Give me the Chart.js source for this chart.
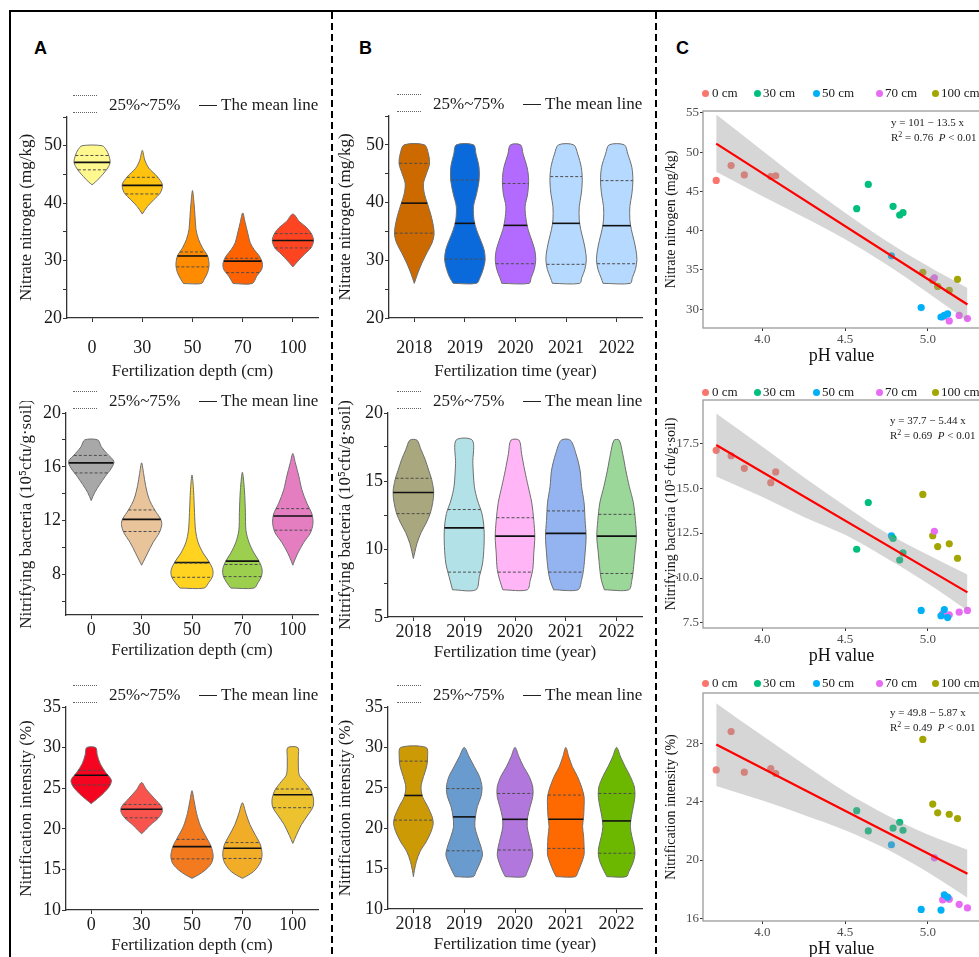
<!DOCTYPE html>
<html>
<head>
<meta charset="utf-8">
<script src="https://cdn.jsdelivr.net/npm/chart.js@4.4.0/dist/chart.umd.min.js"></script>
<style>
  html, body { margin: 0; background: #fff; }
  body { position: relative; width: 979px; height: 957px; overflow: hidden; font-family: "Liberation Serif", "Times New Roman", serif; color: #1a1a1a; }
  canvas { position: absolute; }
  #frame { position: absolute; left: 9px; top: 10px; width: 1200px; height: 1200px; border-left: 2px solid #000; border-top: 2px solid #000; }
  .sep { position: absolute; top: 12px; width: 2px; height: 950px; background: repeating-linear-gradient(to bottom, #000 0 7px, transparent 7px 11px); }
  .tag { position: absolute; top: 39px; font: bold 18px/18px "Liberation Sans", Arial, sans-serif; color: #000; }
  .key { position: absolute; width: 246px; height: 22px; font-size: 17px; line-height: 22px; white-space: nowrap; }
  .key .dots { position: absolute; left: 0; top: 1px; width: 24px; height: 16px; border-top: 1px dotted #666; border-bottom: 1px dotted #666; }
  .key .bar { position: absolute; left: 126px; top: 11px; width: 18px; border-top: 1.3px solid #222; }
  .key span, .ckey span { position: absolute; top: 0; }
  .ckey { position: absolute; left: 0; width: 979px; height: 16px; font-size: 13px; line-height: 16px; white-space: nowrap; }
  .ckey b { position: absolute; top: 4.5px; width: 7px; height: 7px; border-radius: 50%; }
  .eq { position: absolute; font-size: 11px; line-height: 15px; white-space: nowrap; }
  .eq sup { font-size: 8px; vertical-align: 4px; line-height: 0; }
</style>
</head>
<body>
<div id="frame"></div>
<div class="sep" style="left:331px"></div>
<div class="sep" style="left:655px"></div>
<div class="tag" style="left:34px">A</div>
<div class="tag" style="left:359px">B</div>
<div class="tag" style="left:676px">C</div>
<canvas id="aTop"></canvas>
<canvas id="aMid"></canvas>
<canvas id="aBot"></canvas>
<canvas id="bTop"></canvas>
<canvas id="bMid"></canvas>
<canvas id="bBot"></canvas>
<canvas id="cTop"></canvas>
<canvas id="cMid"></canvas>
<canvas id="cBot"></canvas>
<script>
const depthLabels = ['0', '30', '50', '70', '100'];
const yearLabels = ['2018', '2019', '2020', '2021', '2022'];
const depthGroups = ['0 cm', '30 cm', '50 cm', '70 cm', '100 cm'];

// violin outlines: [value, half width in category units], top to bottom
const nitrateDepthShapes = [
  [[50, .20], [49.3, .28], [48.4, .33], [47.2, .36], [46.4, .33], [45.5, .26], [44.6, .17], [43.7, .07], [43.2, 0]],
  [[49.2, 0], [47.5, .05], [46.1, .13], [44.6, .30], [43.2, .40], [41.8, .36], [40.6, .23], [39.4, .10], [38.1, 0]],
  [[42.2, 0], [40, .03], [37.7, .05], [35.4, .07], [33.7, .12], [32.2, .20], [30.8, .30], [29.3, .33], [27.9, .30], [26.7, .23], [26, .18]],
  [[38.3, 0], [36.6, .05], [34.8, .10], [33.1, .15], [31.9, .23], [30.8, .33], [29.6, .39], [28.5, .38], [27.3, .28], [26, .19]],
  [[38.1, 0], [36.8, .13], [35.7, .28], [34.5, .38], [33.4, .41], [32.2, .36], [31.1, .23], [29.9, .10], [28.9, 0]]
];
const nitrateDepthQ1 = [45.8, 41.6, 28.9, 27.9, 32.2];
const nitrateDepthQ3 = [48.3, 44.5, 31.5, 30.4, 34.7];
const nitrateDepthMean = [47.1, 43.1, 30.8, 29.9, 33.5];
const nitrateDepthColors = ['#FEF88E', '#FFC20E', '#FF8C00', '#FF6200', '#FF4422'];

const bacteriaDepthShapes = [
  [[18, .13], [17.5, .20], [17, .31], [16.4, .45], [15.9, .40], [15.3, .28], [14.7, .17], [14.1, .07], [13.5, 0]],
  [[16.3, 0], [15.5, .04], [14.6, .08], [13.6, .15], [12.8, .26], [12.1, .38], [11.7, .40], [11.1, .35], [10.4, .23], [9.6, .12], [9, .04], [8.7, 0]],
  [[15.4, 0], [14.3, .03], [12.6, .05], [11.3, .07], [10.4, .12], [9.6, .22], [9, .33], [8.4, .41], [7.9, .41], [7.4, .33], [7, .24]],
  [[15.6, 0], [14.3, .04], [12.6, .06], [11.3, .07], [10.4, .13], [9.6, .23], [9, .33], [8.4, .39], [7.9, .38], [7.4, .31], [7, .23]],
  [[17, 0], [16.3, .05], [15.3, .12], [14.3, .18], [13.3, .28], [12.5, .38], [11.8, .40], [11.1, .35], [10.4, .22], [9.6, .10], [9, .03], [8.7, 0]]
];
const bacteriaDepthQ1 = [15.55, 11.2, 7.8, 7.85, 11.3];
const bacteriaDepthQ3 = [16.85, 12.8, 8.85, 8.75, 12.9];
const bacteriaDepthMean = [16.3, 12.1, 8.9, 9.0, 12.35];
const bacteriaDepthColors = ['#A8A8A8', '#E9C49A', '#FFD320', '#9CCF4E', '#E47EC1'];

const intensityDepthShapes = [
  [[30, .09], [29.1, .12], [28, .18], [27, .28], [26, .40], [25.2, .36], [24.3, .23], [23.7, .12], [23.1, 0]],
  [[25.7, 0], [24.8, .10], [23.7, .26], [22.7, .40], [22.1, .41], [21.3, .33], [20.5, .18], [19.8, .07], [19.4, 0]],
  [[24.7, 0], [23.5, .04], [21.9, .09], [20.3, .17], [19, .28], [17.8, .38], [16.6, .42], [15.7, .38], [14.9, .26], [14.3, .12], [13.9, 0]],
  [[23.2, 0], [21.9, .07], [20.5, .15], [19.2, .26], [18, .36], [16.8, .39], [15.9, .36], [14.9, .25], [14.3, .12], [13.9, 0]],
  [[30, .10], [28.9, .11], [27.6, .11], [26.6, .13], [25.8, .23], [24.8, .35], [23.7, .41], [22.7, .40], [21.7, .30], [20.5, .17], [19.2, .07], [18.2, 0]]
];
const intensityDepthQ1 = [25.4, 21.35, 16.3, 16.35, 22.6];
const intensityDepthQ3 = [27.2, 23.0, 18.7, 18.3, 24.9];
const intensityDepthMean = [26.6, 22.4, 17.8, 17.6, 24.2];
const intensityDepthColors = ['#F5051F', '#F9534E', '#F47A20', '#F2AD28', '#EDC22F'];

const nitrateYearShapes = [
  [[50, .20], [48.4, .28], [46.7, .30], [45, .24], [43.3, .18], [41.5, .20], [39.8, .26], [37.8, .33], [35.8, .38], [34.4, .39], [33, .35], [31.3, .25], [29.5, .15], [27.8, .07], [26, 0]],
  [[50, .17], [48.4, .22], [46.1, .28], [43.8, .28], [41.5, .23], [39.3, .17], [37, .18], [35.3, .23], [33.5, .31], [31.8, .38], [30.1, .40], [28.4, .36], [27, .30], [26, .23]],
  [[50, .10], [48.4, .15], [46.1, .23], [43.8, .26], [41.5, .24], [39.3, .19], [37, .21], [35.3, .25], [33.5, .32], [31.8, .38], [30.1, .40], [28.4, .37], [27, .31], [26, .27]],
  [[50, .15], [48.4, .23], [46.1, .30], [43.8, .32], [41.5, .30], [39.3, .26], [37, .26], [35.3, .29], [33.5, .34], [31.8, .38], [30.1, .40], [28.4, .37], [27, .31], [26, .27]],
  [[50, .15], [48.4, .22], [46.1, .30], [43.8, .32], [41.5, .30], [39.3, .26], [37, .26], [35.3, .29], [33.5, .34], [31.8, .38], [30.1, .40], [28.4, .37], [27, .31], [26, .27]]
];
const nitrateYearQ1 = [34.7, 30.2, 29.4, 29.3, 29.4];
const nitrateYearQ3 = [46.8, 43.9, 43.3, 44.5, 43.8];
const nitrateYearMean = [39.9, 36.4, 36.05, 36.4, 36.0];
const nitrateYearColors = ['#CC6A00', '#0A6ADB', '#B36BFF', '#B6D9FF', '#B6D9FF'];

const bacteriaYearShapes = [
  [[18, .07], [17.3, .15], [16.6, .23], [15.8, .30], [15.1, .36], [14.2, .40], [13.4, .38], [12.6, .33], [11.9, .25], [11.2, .15], [10.4, .07], [9.8, .03], [9.3, 0]],
  [[18, .16], [16.3, .17], [14.6, .20], [13.6, .26], [12.6, .35], [11.5, .39], [10.2, .39], [8.9, .36], [8, .30], [7, .23]],
  [[18, .08], [17, .13], [15.8, .19], [14.6, .26], [13.4, .33], [12.1, .37], [10.9, .39], [9.7, .37], [8.5, .35], [7.7, .30], [7, .24]],
  [[18, .09], [17, .20], [15.8, .28], [14.6, .31], [13.4, .36], [12.1, .38], [10.9, .40], [9.7, .38], [8.5, .35], [7.7, .31], [7, .24]],
  [[18, .05], [17, .12], [15.8, .18], [14.6, .25], [13.4, .33], [12.1, .37], [10.9, .39], [9.7, .36], [8.5, .33], [7.7, .30], [7, .24]]
];
const bacteriaYearQ1 = [12.6, 8.3, 8.3, 8.3, 8.2];
const bacteriaYearQ3 = [15.2, 12.9, 12.3, 12.8, 12.55];
const bacteriaYearMean = [14.15, 11.55, 10.95, 11.15, 10.95];
const bacteriaYearColors = ['#A9A77D', '#B2E2E8', '#FFB5F6', '#93B4F0', '#9CD79A'];

const intensityYearShapes = [
  [[30, .25], [28.8, .28], [27.6, .26], [26.4, .20], [25.1, .15], [23.9, .18], [22.7, .28], [21.4, .37], [20.6, .39], [19.6, .35], [18.3, .25], [17.1, .13], [15.9, .06], [14.8, .02], [14, 0]],
  [[30, 0], [28.8, .10], [27.6, .20], [26.4, .30], [25.1, .35], [23.9, .33], [22.7, .26], [21.4, .22], [20.2, .21], [19, .26], [17.7, .33], [16.7, .36], [15.7, .31], [14.6, .23], [14, .18]],
  [[30, 0], [28.8, .08], [27.6, .17], [26.4, .28], [25.1, .35], [23.9, .35], [22.7, .30], [21.4, .25], [20.2, .24], [19, .28], [17.7, .33], [16.7, .35], [15.7, .31], [14.6, .24], [14, .19]],
  [[30, 0], [28.8, .06], [27.6, .13], [26.4, .23], [25.1, .31], [23.9, .36], [22.7, .36], [21.4, .35], [20.2, .33], [19, .35], [17.7, .36], [16.7, .36], [15.7, .31], [14.6, .24], [14, .19]],
  [[30, 0], [28.8, .08], [27.6, .17], [26.4, .27], [25.1, .35], [23.9, .36], [22.7, .33], [21.4, .29], [20.2, .27], [19, .30], [17.7, .35], [16.7, .36], [15.7, .32], [14.6, .24], [14, .19]]
];
const intensityYearQ1 = [21.0, 17.2, 17.3, 17.5, 16.9];
const intensityYearQ3 = [28.3, 24.9, 24.3, 24.1, 24.3];
const intensityYearMean = [24.05, 21.4, 21.1, 21.1, 20.9];
const intensityYearColors = ['#CC9A05', '#6A9BCF', '#B177DD', '#FF6A00', '#6CB800'];

// axis ticks (all ticks get a mark, only some get a label)
const nitrateTicks = [20, 25, 30, 35, 40, 45, 50, 55];
const nitrateTickLabels = [20, 30, 40, 50];
const bacteriaDepthTicks = [6, 8, 10, 12, 14, 16, 18, 20];
const bacteriaDepthTickLabels = [8, 12, 16, 20];
const bacteriaYearTicks = [5, 7.5, 10, 12.5, 15, 17.5, 20];
const bacteriaYearTickLabels = [5, 10, 15, 20];
const intensityTicks = [10, 12.5, 15, 17.5, 20, 22.5, 25, 27.5, 30, 32.5, 35];
const intensityTickLabels = [10, 15, 20, 25, 30, 35];

// panel C: soil pH and the three measures, one list per fertilization depth
const phByDepth = [
  [3.72, 3.81, 3.89, 4.05, 4.08],
  [4.57, 4.64, 4.79, 4.83, 4.85],
  [4.78, 4.96, 5.08, 5.10, 5.12],
  [5.04, 5.09, 5.13, 5.19, 5.24],
  [4.97, 5.03, 5.06, 5.13, 5.18]
];
const nitrateByDepth = [
  [46.4, 48.3, 47.1, 46.9, 47.0],
  [42.8, 45.9, 43.1, 42.0, 42.3],
  [36.8, 30.2, 29.0, 29.2, 29.4],
  [34.0, 29.0, 28.5, 29.2, 28.8],
  [34.7, 33.7, 32.9, 32.4, 33.8]
];
const bacteriaByDepth = [
  [17.1, 16.8, 16.1, 15.3, 15.9],
  [11.6, 14.2, 12.2, 11.0, 11.4],
  [12.35, 8.2, 7.9, 8.25, 7.8],
  [12.6, 8.0, 7.95, 8.1, 8.2],
  [14.65, 12.35, 11.75, 11.9, 11.1]
];
const intensityByDepth = [
  [26.2, 28.85, 26.05, 26.3, 25.95],
  [23.4, 22.0, 22.2, 22.6, 22.05],
  [21.05, 16.6, 16.55, 17.6, 17.45],
  [20.15, 17.25, 17.3, 16.95, 16.7],
  [28.3, 23.85, 23.25, 23.15, 22.85]
];
const groupColors = ['#F8766D', '#00BF7D', '#00B0F6', '#E76BF3', '#A3A500'];

// fitted line ends and confidence band edges
const fitX = [3.72, 5.24];
const nitrateFit = [51.1, 30.6];
const bacteriaFit = [17.4, 9.2];
const intensityFit = [27.96, 19.06];
const bandX = [3.72, 4.0, 4.25, 4.5, 4.75, 5.0, 5.24];
const nitrateBandUp = [54.8, 50.2, 46.1, 42.3, 38.7, 35.5, 32.7];
const nitrateBandLow = [47.5, 44.4, 41.7, 38.9, 35.7, 32.1, 28.5];
const bacteriaBandUp = [19.15, 17.3, 15.6, 14.0, 12.5, 11.3, 10.2];
const bacteriaBandLow = [15.65, 14.5, 13.4, 12.4, 11.1, 9.7, 8.2];
const intensityBandUp = [30.8, 28.55, 26.6, 24.7, 23.1, 21.75, 20.7];
const intensityBandLow = [25.1, 24.1, 23.1, 22.05, 20.75, 19.15, 17.4];
const phTicks = [4.0, 4.5, 5.0];
const nitratePhTicks = [30, 35, 40, 45, 50, 55];
const bacteriaPhTicks = [7.5, 10, 12.5, 15, 17.5];
const intensityPhTicks = [16, 20, 24, 28];

const serif = '"Liberation Serif", "Times New Roman", serif';
Chart.defaults.font.family = serif;
Chart.defaults.color = '#1a1a1a';

function halfWidthAt(shape, v) {
  for (let k = 0; k < shape.length - 1; k++) {
    const [v0, w0] = shape[k], [v1, w1] = shape[k + 1];
    if (v <= v0 && v >= v1) return w0 + (w1 - w0) * (v0 - v) / (v0 - v1);
  }
  return 0;
}

function violinSets(shapes, q1, q3, mean, colors) {
  const sets = [];
  shapes.forEach((shape, i) => {
    const pts = [];
    for (let k = shape.length - 1; k >= 0; k--) pts.push({x: i - shape[k][1], y: shape[k][0]});
    shape.forEach(([v, w], k) => {
      if (k === 0 && w === 0) return;
      pts.push({x: i + w, y: v});
    });
    if (shape[shape.length - 1][1] > 0) pts.push(pts[0]);
    sets.push({data: pts, showLine: true, fill: 'shape', backgroundColor: colors[i], borderColor: '#6e6e6e',
      borderWidth: 1, pointRadius: 0, tension: 0.3, order: 2});
    [q1[i], q3[i]].forEach(v => {
      const w = halfWidthAt(shape, v);
      sets.push({data: [{x: i - w, y: v}, {x: i + w, y: v}], showLine: true, borderColor: '#4d4d4d',
        borderWidth: 1, borderDash: [3, 2], pointRadius: 0, order: 1});
    });
    const wm = halfWidthAt(shape, mean[i]);
    sets.push({data: [{x: i - wm, y: mean[i]}, {x: i + wm, y: mean[i]}], showLine: true, borderColor: '#111',
      borderWidth: 1.6, pointRadius: 0, order: 1});
  });
  return sets;
}

function addKey(right, plotTop) {
  const d = document.createElement('div');
  d.className = 'key';
  d.style.left = (right - 245) + 'px';
  d.style.top = (plotTop - 23) + 'px';
  d.innerHTML = '<i class="dots"></i><span style="left:36px">25%~75%</span><i class="bar"></i><span style="left:148px">The mean line</span>';
  document.body.appendChild(d);
}

// gap: space between the x axis and its tick labels (the top row sits lower in the figure)
function violinChart(id, canvasLeft, area, gap, cats, xTitle, yTitle, yMin, yMax, ticks, tickLabels, sets) {
  const [pl, pt, pr, pb] = area;
  const xHeight = Math.round(46 + gap * 1.2);
  const cv = document.getElementById(id);
  const top = pt - 12;
  cv.width = pr + 12 - canvasLeft;
  cv.height = pb + xHeight - top;
  cv.style.left = canvasLeft + 'px';
  cv.style.top = top + 'px';
  new Chart(cv, {
    type: 'scatter',
    data: {datasets: sets},
    options: {
      responsive: false, animation: false, devicePixelRatio: 1, events: [],
      layout: {padding: {top: 12, right: 12, bottom: 0, left: 0}},
      plugins: {legend: {display: false}, tooltip: {enabled: false}},
      scales: {
        x: {
          type: 'linear', min: -0.5, max: 4.5,
          afterBuildTicks: s => { s.ticks = cats.map((c, i) => ({value: i})); },
          afterFit: s => { s.height = xHeight; },
          ticks: {callback: v => cats[v], font: {size: 18}, padding: gap, maxRotation: 0, autoSkip: false},
          grid: {drawOnChartArea: false, tickLength: 4, color: '#333'},
          border: {color: '#333', width: 1.3},
          title: {display: true, text: xTitle, font: {size: 17}, padding: 0}
        },
        y: {
          min: yMin, max: yMax,
          afterBuildTicks: s => { s.ticks = ticks.map(v => ({value: v})); },
          afterFit: s => { s.width = pl - canvasLeft; },
          ticks: {callback: v => tickLabels.includes(v) ? v : '', font: {size: 18}, padding: 1},
          grid: {drawOnChartArea: false, tickLength: 4, color: '#333'},
          border: {color: '#333', width: 1.3},
          title: {display: true, text: yTitle, font: {size: 17}, padding: 0}
        }
      }
    }
  });
  addKey(pr, pt);
}

const panelBorder = {
  id: 'panelBorder',
  afterDatasetsDraw(chart) {
    const {left, top, width, height} = chart.chartArea;
    const ctx = chart.ctx;
    ctx.save();
    ctx.strokeStyle = '#9a9a9a';
    ctx.lineWidth = 1.3;
    ctx.strokeRect(left, top, width, height);
    ctx.restore();
  }
};

const keySlots = [[705, 712], [757, 763], [816, 822], [879, 885], [935, 941]];
function addGroupKey(cy) {
  const d = document.createElement('div');
  d.className = 'ckey';
  d.style.top = (cy - 8) + 'px';
  depthGroups.forEach((g, k) => {
    d.insertAdjacentHTML('beforeend', '<b style="left:' + (keySlots[k][0] - 3.5) + 'px;background:' + groupColors[k] +
      '"></b><span style="left:' + keySlots[k][1] + 'px">' + g + '</span>');
  });
  document.body.appendChild(d);
}

function addFitNote(x, y, eq, r2) {
  const d = document.createElement('div');
  d.className = 'eq';
  d.style.left = x + 'px';
  d.style.top = (y - 7.5) + 'px';
  d.innerHTML = eq + '<br>R<sup>2</sup> = ' + r2 + '&nbsp; <i>P</i> &lt; 0.01';
  document.body.appendChild(d);
}

function phChart(id, area, values, bandUp, bandLow, fit, yTitle, yMin, yMax, ticks, digits) {
  const [pl, pt, pr, pb] = area;
  const canvasLeft = 655;
  const cv = document.getElementById(id);
  const top = pt - 10;
  cv.width = pr + 20 - canvasLeft;
  cv.height = pb + 39 - top;
  cv.style.left = canvasLeft + 'px';
  cv.style.top = top + 'px';
  const sets = depthGroups.map((g, k) => ({
    label: g, data: phByDepth[k].map((x, n) => ({x, y: values[k][n]})),
    pointRadius: 3.6, pointBackgroundColor: groupColors[k], pointBorderWidth: 0, order: 3
  }));
  sets.push({data: bandX.map((x, n) => ({x, y: bandUp[n]})), showLine: true, fill: '+1',
    backgroundColor: 'rgba(153,153,153,0.4)', borderColor: 'rgba(0,0,0,0)', pointRadius: 0,
    cubicInterpolationMode: 'monotone', order: 2});
  sets.push({data: bandX.map((x, n) => ({x, y: bandLow[n]})), showLine: true,
    borderColor: 'rgba(0,0,0,0)', pointRadius: 0, cubicInterpolationMode: 'monotone', order: 2});
  sets.push({data: fitX.map((x, n) => ({x, y: fit[n]})), showLine: true, borderColor: '#FF0000',
    borderWidth: 2.2, pointRadius: 0, order: 1});
  new Chart(cv, {
    type: 'scatter',
    data: {datasets: sets},
    plugins: [panelBorder],
    options: {
      responsive: false, animation: false, devicePixelRatio: 1, events: [],
      layout: {padding: {top: 10, right: 20, bottom: 0, left: 8}},
      plugins: {legend: {display: false}, tooltip: {enabled: false}},
      scales: {
        x: {
          min: 3.64, max: 5.316,
          afterBuildTicks: s => { s.ticks = phTicks.map(v => ({value: v})); },
          afterFit: s => { s.height = 39; },
          ticks: {callback: v => v.toFixed(1), font: {size: 13}, color: '#4d4d4d', padding: 1},
          grid: {drawOnChartArea: false, tickLength: 3, color: '#333'},
          border: {display: false},
          title: {display: true, text: 'pH value', font: {size: 18}, color: '#111', padding: 0}
        },
        y: {
          min: yMin, max: yMax,
          afterBuildTicks: s => { s.ticks = ticks.map(v => ({value: v})); },
          afterFit: s => { s.width = pl - canvasLeft - 8; },
          ticks: {callback: v => v.toFixed(digits), font: {size: 13}, color: '#4d4d4d', padding: 1},
          grid: {drawOnChartArea: false, tickLength: 3, color: '#333'},
          border: {display: false},
          title: {display: true, text: yTitle, font: {size: 14}, color: '#111', padding: 0}
        }
      }
    }
  });
}

violinChart('aTop', 16, [67, 117, 318, 318], 15, depthLabels, 'Fertilization depth (cm)', 'Nitrate nitrogen (mg/kg)',
  20, 55, nitrateTicks, nitrateTickLabels,
  violinSets(nitrateDepthShapes, nitrateDepthQ1, nitrateDepthQ3, nitrateDepthMean, nitrateDepthColors));
violinChart('aMid', 16, [66, 413, 318, 615], 0, depthLabels, 'Fertilization depth (cm)', 'Nitrifying bacteria (10\u2075cfu/g\u00b7soil)',
  5, 20, bacteriaDepthTicks, bacteriaDepthTickLabels,
  violinSets(bacteriaDepthShapes, bacteriaDepthQ1, bacteriaDepthQ3, bacteriaDepthMean, bacteriaDepthColors));
violinChart('aBot', 16, [66, 707, 318, 910], 0, depthLabels, 'Fertilization depth (cm)', 'Nitrification intensity (%)',
  10, 35, intensityTicks, intensityTickLabels,
  violinSets(intensityDepthShapes, intensityDepthQ1, intensityDepthQ3, intensityDepthMean, intensityDepthColors));
violinChart('bTop', 335, [389, 116, 642, 318], 15, yearLabels, 'Fertilization time (year)', 'Nitrate nitrogen (mg/kg)',
  20, 55, nitrateTicks, nitrateTickLabels,
  violinSets(nitrateYearShapes, nitrateYearQ1, nitrateYearQ3, nitrateYearMean, nitrateYearColors));
violinChart('bMid', 335, [388, 413, 642, 617], 0, yearLabels, 'Fertilization time (year)', 'Nitrifying bacteria (10\u2075cfu/g\u00b7soil)',
  5, 20, bacteriaYearTicks, bacteriaYearTickLabels,
  violinSets(bacteriaYearShapes, bacteriaYearQ1, bacteriaYearQ3, bacteriaYearMean, bacteriaYearColors));
violinChart('bBot', 335, [388, 707, 642, 909], 0, yearLabels, 'Fertilization time (year)', 'Nitrification intensity (%)',
  10, 35, intensityTicks, intensityTickLabels,
  violinSets(intensityYearShapes, intensityYearQ1, intensityYearQ3, intensityYearMean, intensityYearColors));

phChart('cTop', [703, 111, 980, 328], nitrateByDepth, nitrateBandUp, nitrateBandLow, nitrateFit,
  'Nitrate nitrogen (mg/kg)', 27.6, 55.25, nitratePhTicks, 0);
phChart('cMid', [703, 400, 980, 628], bacteriaByDepth, bacteriaBandUp, bacteriaBandLow, bacteriaFit,
  'Nitrifying bacteria (10\u2075 cfu/g\u00b7soil)', 7.22, 19.9, bacteriaPhTicks, 1);
phChart('cBot', [703, 693, 980, 921], intensityByDepth, intensityBandUp, intensityBandLow, intensityFit,
  'Nitrification intensity (%)', 15.8, 31.5, intensityPhTicks, 0);

addGroupKey(93);
addGroupKey(392);
addGroupKey(683);
addFitNote(891, 122, 'y = 101 \u2212 13.5 x', '0.76');
addFitNote(890, 420, 'y = 37.7 \u2212 5.44 x', '0.69');
addFitNote(890, 712, 'y = 49.8 \u2212 5.87 x', '0.49');
</script>
</body>
</html>
